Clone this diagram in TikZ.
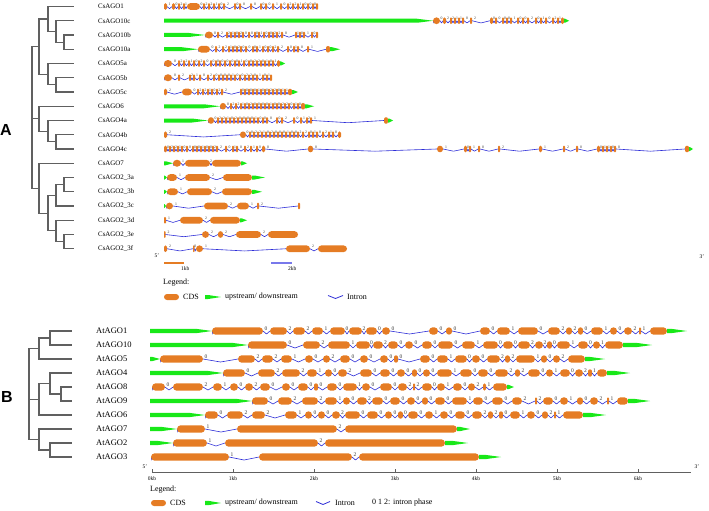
\documentclass[tikz,border=0pt]{standalone}
\usepackage{fontspec}
\setmainfont{Liberation Serif}
\newfontfamily\panelfont{Liberation Sans}
\usetikzlibrary{calc}
\definecolor{ExonOrange}{RGB}{229,124,36}
\definecolor{UtrGreen}{RGB}{24,232,24}
\definecolor{IntronBlue}{RGB}{45,45,215}
\definecolor{ScaleBlue}{RGB}{120,120,235}
\definecolor{TreeGray}{RGB}{96,96,96}

% one gene: name, y, first exon start, exons start/end/phase of the intron before
\newcommand{\track}[4]{%
  \foreach \xs/\xe/\ph [remember=\xe as \xp (initially #3)] in {#4}{%
    \pgfmathsetmacro{\rc}{min(\exh,(\xe-\xs)/2)}%
    \pgfmathsetmacro{\lx}{\xp+min(3,(\xs-\xp)/2)}%
    \draw[intron] (\xp,#2) -- ({(\xp+\xs)/2},{#2+\intdip}) -- (\xs,#2);
    \node[phase] (#1-\xs) at (\lx,{#2-0.6}) {\ph};
    \fill[cds, rounded corners=\rc pt] (\xs,{#2-\exh}) rectangle (\xe,{#2+\exh});
  }}
% untranslated region, tapering to the right
\newcommand{\utr}[3]{%
  \pgfmathsetmacro{\tp}{min(16,0.8*(#3-#2))}%
  \fill[utr] (#2,{#1-\utrh}) -- ({#3-\tp},{#1-\utrh}) -- (#3,#1)
    -- ({#3-\tp},{#1+\utrh}) -- (#2,{#1+\utrh}) -- cycle;}

\begin{document}
\begin{tikzpicture}[x=1pt, y=-1pt,
	br/.style={draw=TreeGray, line width=1.1pt, line cap=rect},
	gname/.style={anchor=west, inner sep=0pt},
	cds/.style={fill=ExonOrange},
	utr/.style={fill=UtrGreen},
	intron/.style={draw=IntronBlue, line width=0.6pt, line join=round},
	phase/.style={anchor=south, inner sep=0pt, text=black!80},
	lgd/.style={anchor=west, inner sep=0pt, font=\fontsize{8}{9}\selectfont},
	tiny/.style={inner sep=0pt, font=\fontsize{5.5}{6}\selectfont},
	panel/.style={inner sep=0pt, font=\panelfont\bfseries\fontsize{16}{16}\selectfont}]

	\useasboundingbox (0,0) rectangle (709,511);

	% panel A
	\begin{scope}[phase/.append style={font=\fontsize{3.8}{4}\selectfont},
		gname/.append style={font=\fontsize{6.9}{7}\selectfont}]
		\def\exh{3.3}\def\intdip{2.2}\def\utrh{2}
		\node[panel] (la) at (6,130) {A};

		% tree
		\foreach \x/\ya/\yb in {64/35/49.25, 56/20.75/42.1, 48/6.5/31.4, 56/77.75/92,
			48/63.5/84.9, 39/19/74.2, 56/134.75/149, 48/120.5/141.9, 39/106.25/131.2,
			64/177.5/191.75, 56/184.6/206, 64/234.5/248.75, 56/220.25/241.6,
			48/195.3/230.9, 39/163.25/213.1, 32/46.6/188.2}
			\draw[br] (\x,\ya) -- (\x,\yb);
		\foreach \y/\xa in {6.5/48, 20.75/56, 35/64, 49.25/64, 63.5/48, 77.75/56, 92/56,
			106.25/39, 120.5/48, 134.75/56, 149/56, 163.25/39, 177.5/64, 191.75/64,
			206/56, 220.25/56, 234.5/64, 248.75/64}
			\draw[br] (\xa,\y) -- (73,\y);
		\foreach \y/\xa/\xb in {42.1/56/64, 31.4/48/56, 19/39/48, 84.9/48/56, 74.2/39/48,
			46.6/32/39, 141.9/48/56, 131.2/39/48, 118.7/32/39, 184.6/56/64, 195.3/48/56,
			241.6/56/64, 230.9/48/56, 213.1/39/48, 188.2/32/39}
			\draw[br] (\xa,\y) -- (\xb,\y);

		% gene names
		\foreach \i/\t [count=\k from 0] in {ago1/CsAGO1, ago10c/CsAGO10c, ago10b/CsAGO10b,
			ago10a/CsAGO10a, ago5a/CsAGO5a, ago5b/CsAGO5b, ago5c/CsAGO5c, ago6/CsAGO6,
			ago4a/CsAGO4a, ago4b/CsAGO4b, ago4c/CsAGO4c, ago7/CsAGO7, ago23a/CsAGO2\_3a,
			ago23b/CsAGO2\_3b, ago23c/CsAGO2\_3c, ago23d/CsAGO2\_3d, ago23e/CsAGO2\_3e,
			ago23f/CsAGO2\_3f}
			\node[gname] (cs\i) at (98,{6.5+14.25*\k}) {\t};

		% gene structures
		\track{a0}{6.5}{164}{164/167/{}, 172/175/1, 178/180/0, 183/185/2, 187/200/1, 203/205/0,
			208/210/2, 213/215/2, 218/220/1, 223/225/0, 234/236/2, 239/241/0, 250/252/0,
			260/262/0, 265/267/0, 272/274/0, 280/282/1, 287/289/0, 292/294/2, 297/299/2,
			302/304/1, 307/309/0, 312/314/0, 316/318/0}
		\utr{20.75}{164}{433}
		\track{a1}{20.75}{433}{433/440/{}, 443/446/0, 450/452/2, 454/456/2, 458/460/1,
			462/464/1, 470/472/0, 490/493/2, 495/497/0, 502/504/0, 506/508/0, 510/512/0,
			517/519/1, 522/524/0, 527/529/0, 535/537/2, 540/542/0, 545/547/1, 552/554/0,
			557/559/2, 561/564/1}
		\utr{20.75}{564}{569}
		\utr{35}{164}{205}
		\track{a2}{35}{205}{205/213/{}, 217/219/0, 226/228/2, 230/232/2, 234/236/1, 238/240/0,
			242/244/2, 248/250/0, 254/256/0, 258/260/0, 263/265/1, 268/270/0, 272/274/0,
			276/278/2, 281/283/2, 295/297/0, 299/301/1, 303/305/0, 311/313/1, 316/318/0}
		\utr{49.25}{164}{198}
		\track{a3}{49.25}{198}{198/210/{}, 215/217/0, 222/224/2, 228/230/2, 232/234/1,
			236/238/0, 240/242/2, 245/247/0, 252/254/0, 256/258/0, 262/264/1, 267/269/0,
			272/274/0, 277/279/2, 287/289/2, 293/295/0, 297/299/1, 307/309/0, 326/330/1}
		\utr{49.25}{330}{340}
		\track{a4}{63.5}{164}{164/172/{}, 178/180/0, 183/185/2, 188/190/2, 193/195/1,
			198/200/0, 203/205/2, 210/212/0, 215/217/0, 219/221/0, 224/226/0, 229/231/0,
			234/236/0, 238/240/0, 243/245/1, 248/250/0, 252/254/0, 256/258/2, 260/262/2,
			264/266/0, 268/270/1, 272/274/0, 277/280/1}
		\utr{63.5}{280}{285}
		\track{a5}{77.75}{164}{164/172/{}, 178/180/0, 189/191/2, 193/195/2, 199/201/1,
			207/209/0, 213/215/2, 218/220/0, 222/224/0, 226/228/0, 230/232/0, 234/236/1,
			239/241/0, 244/246/0, 248/250/2, 252/254/2, 256/258/0, 262/264/1, 266/268/0,
			270/272/1}
		\track{a6}{92}{164}{164/167/{}, 182/192/2, 197/199/0, 202/204/2, 207/209/2, 211/213/1,
			216/218/0, 221/223/2, 240/242/2, 244/246/0, 248/250/0, 252/254/0, 256/258/0,
			260/262/1, 264/266/0, 268/270/0, 272/274/2, 276/278/2, 280/282/0, 284/286/1,
			288/292/1}
		\utr{92}{292}{298}
		\utr{106.25}{164}{220}
		\track{a7}{106.25}{220}{220/226/{}, 230/232/0, 235/237/2, 240/242/2, 244/246/1,
			248/250/0, 252/254/2, 256/258/0, 260/262/0, 264/266/0, 268/270/0, 272/274/1,
			276/278/0, 280/282/0, 284/286/2, 288/290/2, 293/295/0, 297/299/1, 301/305/0}
		\utr{106.25}{305}{314}
		\utr{120.5}{164}{208}
		\track{a8}{120.5}{208}{208/214/{}, 217/219/0, 221/223/2, 225/227/2, 229/231/1,
			233/235/0, 237/239/2, 241/243/0, 245/247/0, 249/251/0, 253/255/0, 257/259/1,
			262/264/0, 266/268/0, 276/278/0, 281/283/0, 293/295/2, 300/302/0, 306/308/1,
			310/312/2, 384/388/1}
		\utr{120.5}{388}{393}
		\track{a9}{134.75}{164}{164/167/{}, 240/246/2, 249/251/0, 253/255/0, 257/259/2,
			261/263/2, 265/267/1, 269/271/0, 273/275/2, 277/279/0, 281/283/0, 285/287/0,
			289/291/1, 293/295/0, 297/299/0, 302/304/2, 308/310/2, 312/314/0, 316/318/1,
			322/324/0, 328/330/2, 332/334/1, 338/341/0}
		\track{a10}{149}{164}{164/167/{}, 169/171/0, 173/175/2, 177/179/2, 181/183/1,
			186/188/0, 192/194/0, 196/198/0, 200/202/0, 204/206/1, 208/210/0, 212/214/0,
			216/218/2, 225/227/2, 232/234/0, 236/238/1, 244/246/0, 250/252/2, 256/258/1,
			262/265/0, 308/313/0, 437/443/0, 464/467/1, 469/471/0, 478/480/1, 498/500/0,
			539/542/2, 563/565/1, 576/578/2, 597/600/0, 602/604/0, 606/608/1, 610/612/1,
			614/616/0, 685/689/0}
		\utr{149}{689}{693}
		\utr{163.25}{164}{173}
		\track{a11}{163.25}{173}{173/181/{}, 185/210/1, 212/241/2}
		\utr{163.25}{241}{247}
		\utr{177.5}{164}{167}
		\track{a12}{177.5}{167}{167/177/{}, 185/210/1, 223/252/2}
		\utr{177.5}{252}{265}
		\utr{191.75}{164}{167}
		\track{a13}{191.75}{167}{167/178/{}, 187/212/1, 222/252/2}
		\utr{191.75}{252}{262}
		\utr{206}{164}{166}
		\track{a14}{206}{166}{166/173/{}, 204/228/1, 237/249/2, 257/259/1, 298/300/2}
		\track{a15}{220.25}{164}{164/166/{}, 180/203/1, 210/240/2}
		\utr{220.25}{240}{247}
		\track{a16}{234.5}{164}{164/165.5/{}, 202/209/2, 218/223/2, 236/261/2, 268/298/2}
		\track{a17}{248.75}{164}{164/167/{}, 193/194.5/2, 196/203/0, 286/310/1, 318/347/2}

		\node[tiny] (a5p) at (157,256) {5'};
		\node[tiny] (a3p) at (702,257) {3'};

		% scale bars
		\draw[ExonOrange, line width=2.4pt] (164,263) -- (184,263);
		\node[tiny, anchor=north west] (kb1) at (181,266) {1kb};
		\draw[ScaleBlue, line width=1.8pt] (271,263) -- (292,263);
		\node[tiny, anchor=north west] (kb2) at (288,266) {2kb};

		% legend
		\node[lgd] (lega) at (163,283) {Legend:};
		\fill[cds, rounded corners=3pt] (164,294) rectangle (179,300);
		\node[lgd] (cdsa) at (183,297) {CDS};
		\utr{297}{205}{221}
		\node[lgd] (utra) at (225,297) {upstream/ downstream};
		\draw[intron, line width=0.8pt] (328,295.5) -- (335.5,298.5) -- (343,295.5);
		\node[lgd] (inta) at (347,297) {Intron};
	\end{scope}

	% panel B
	\begin{scope}[phase/.append style={font=\fontsize{5.5}{5.5}\selectfont},
		gname/.append style={font=\fontsize{8.5}{9}\selectfont}]
		\def\exh{3.7}\def\intdip{3}\def\utrh{2.2}
		\node[panel] (lb) at (7,397) {B};

		% tree
		\foreach \x/\ya/\yb in {50/331/345, 39/338/359, 61/387/401, 50/373/394,
			39/383.5/415, 50/443/457, 39/429/450, 29/348.5/439.5}
			\draw[br] (\x,\ya) -- (\x,\yb);
		\foreach \y/\xa in {331/50, 345/50, 359/39, 373/50, 387/61, 401/61, 415/39,
			429/39, 443/50, 457/50}
			\draw[br] (\xa,\y) -- (71,\y);
		\foreach \y/\xa/\xb in {338/39/50, 348.5/29/39, 394/50/61, 383.5/39/50,
			399.25/29/39, 450/39/50, 439.5/29/39}
			\draw[br] (\xa,\y) -- (\xb,\y);

		\foreach \t [count=\k from 0] in {AtAGO1, AtAGO10, AtAGO5, AtAGO4, AtAGO8,
			AtAGO9, AtAGO6, AtAGO7, AtAGO2, AtAGO3}
			\node[gname] (\t) at (96,{331+14*\k}) {\t};

		% gene structures
		\utr{331}{150}{212}
		\track{b0}{331}{212}{212/263/{}, 270/287/0, 293/305/2, 312/323/2, 330/345/1,
			349/362/0, 366/377/2, 382/390/0, 429/438/0, 446/452/0, 480/490/0, 497/510/0,
			518/538/1, 548/560/0, 566/572/2, 578/583/2, 591/603/0, 610/617/1, 624/632/0,
			639/641/2, 650/667/1}
		\utr{331}{667}{687}
		\utr{345}{150}{248}
		\track{b1}{345}{248}{248/287/{}, 303/320/0, 328/350/2, 356/370/1, 373/383/0,
			388/398/2, 405/413/0, 422/432/0, 438/453/0, 462/475/0, 483/498/1, 503/513/0,
			518/530/0, 535/543/2, 547/552/2, 557/570/0, 578/588/1, 593/600/0, 605/623/1}
		\utr{345}{623}{652}
		\utr{359}{150}{160}
		\track{b2}{359}{160}{160/203/{}, 238/255/0, 262/273/2, 281/292/2, 305/313/1,
			323/330/0, 340/350/2, 360/368/0, 380/388/0, 394/398/0, 420/430/0, 437/448/0,
			455/467/1, 472/480/0, 487/500/0, 505/510/2, 516/535/2, 541/547/1, 553/560/0,
			568/585/2}
		\utr{359}{585}{605}
		\utr{373}{150}{223}
		\track{b3}{373}{223}{223/245/{}, 258/275/0, 282/300/2, 307/317/2, 325/332/1,
			338/347/0, 360/372/2, 380/390/0, 397/405/0, 412/417/0, 423/430/0, 437/452/0,
			460/472/1, 478/488/0, 495/508/0, 515/520/2, 528/540/2, 546/553/0, 560/570/1,
			575/583/0, 588/592/2, 597/607/1}
		\utr{373}{607}{630}
		\track{b4}{387}{152}{152/165/{}, 173/203/0, 213/222/2, 230/238/1, 245/253/0,
			260/270/2, 282/290/0, 298/308/0, 314/318/0, 327/337/0, 343/357/0, 362/370/1,
			380/392/0, 398/407/0, 413/415/2, 422/432/2, 437/445/0, 453/462/1, 468/475/0,
			483/486/2, 493/507/1}
		\utr{387}{507}{514}
		\utr{401}{150}{252}
		\track{b5}{401}{252}{252/268/{}, 278/292/0, 302/318/2, 325/337/2, 343/350/1,
			357/367/0, 372/383/2, 390/400/0, 407/415/0, 422/428/0, 435/445/0, 452/467/0,
			473/483/1, 492/503/0, 512/522/0, 535/537/2, 543/553/2, 560/568/0, 577/583/1,
			590/598/0, 607/609/2, 617/628/1}
		\utr{401}{628}{650}
		\utr{415}{150}{205}
		\track{b6}{415}{205}{205/218/{}, 227/243/0, 252/265/2, 285/297/2, 305/312/1,
			318/325/0, 332/340/0, 345/360/2, 367/378/0, 385/392/0, 398/403/0, 408/418/0,
			425/433/0, 440/448/1, 455/465/0, 472/482/0, 488/493/2, 499/503/2, 510/520/0,
			527/535/1, 542/548/0, 554/556/2, 563/583/1}
		\utr{415}{583}{606}
		\utr{429}{150}{177}
		\track{b7}{429}{177}{177/205/{}, 237/337/1, 345/457/2}
		\utr{429}{457}{470}
		\utr{443}{150}{173}
		\track{b8}{443}{173}{173/207/{}, 225/318/1, 325/445/2}
		\utr{443}{445}{468}
		\track{b9}{457}{151}{151/229/{}, 259/352/1, 359/479/2}
		\utr{457}{479}{501}

		% axis
		\draw[TreeGray, line width=0.8pt] (152,472) -- (691,472);
		\foreach \k in {0,...,6}{
			\draw[TreeGray, line width=0.6pt] ({152+81*\k},472) -- ({152+81*\k},469);
			\node[tiny, anchor=north] (kb\k) at ({152+81*\k},476) {\k kb};}
		\node[tiny] (b5p) at (145,467) {5'};
		\node[tiny] (b3p) at (697,467) {3'};

		% legend
		\node[lgd] (legb) at (150,490) {Legend:};
		\fill[cds, rounded corners=3pt] (151,500) rectangle (166,506);
		\node[lgd] (cdsb) at (170,503) {CDS};
		\utr{503}{205}{221}
		\node[lgd] (utrb) at (225,503) {upstream/ downstream};
		\draw[intron, line width=0.8pt] (316,501.5) -- (323,504.5) -- (330,501.5);
		\node[lgd] (intb) at (335,503) {Intron};
		\node[lgd] (phb) at (372,503) {0 1 2: intron phase};
	\end{scope}
\end{tikzpicture}
\end{document}
